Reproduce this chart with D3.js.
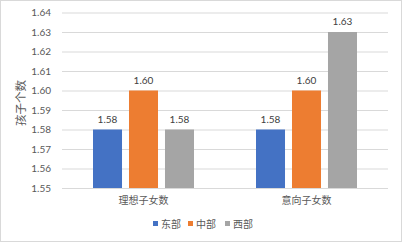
<!DOCTYPE html>
<html><head><meta charset="utf-8">
<script src="https://cdn.jsdelivr.net/npm/d3@7"></script>
<style>body{margin:0;background:#fff}svg{display:block}</style>
</head><body>
<svg id="c" width="402" height="242"></svg>
<script>
const categories = ["理想子女数", "意向子女数"];
const seriesNames = ["东部", "中部", "西部"];
const east = [1.58, 1.58];
const central = [1.60, 1.60];
const west = [1.58, 1.63];
const seriesValues = [east, central, west];
const colors = ["#4472C4", "#ED7D31", "#A5A5A5"];
const yTicks = [1.55, 1.56, 1.57, 1.58, 1.59, 1.60, 1.61, 1.62, 1.63, 1.64];
const yTitle = "孩子个数";

const svg = d3.select("#c");
const font = "Lato, 'Noto Sans CJK SC', sans-serif";
const cjk = "'Noto Sans CJK SC', sans-serif";
svg.append("rect").attr("x",0.5).attr("y",0.5).attr("width",401).attr("height",241)
  .attr("fill","#fff").attr("stroke","#D9D9D9");

const L = 62, R = 388, T = 12.5, B = 188;
const y = d3.scaleLinear().domain([1.55, 1.64]).range([B, T]);
const x0 = d3.scaleBand().domain(categories).range([L, R]).paddingInner(0).paddingOuter(0);
const x1 = d3.scaleBand().domain(seriesNames).range([31, x0.bandwidth() - 31]).paddingInner(0.194).paddingOuter(0);

// gridlines
const yAxis = d3.axisLeft(y).tickValues(yTicks).tickFormat(d3.format(".2f")).tickSize(-(R - L)).tickPadding(11);
const ga = svg.append("g").attr("transform", `translate(${L},0)`).call(yAxis);
ga.select(".domain").remove();
ga.selectAll(".tick line").attr("stroke", "#D9D9D9").attr("stroke-width", 1);
ga.selectAll(".tick text").attr("fill", "#595959").style("font-family", font).style("font-size", "10px");

// bars
categories.forEach((cat, ci) => {
  const g = svg.append("g").attr("transform", `translate(${x0(cat)},0)`);
  seriesNames.forEach((s, si) => {
    const v = seriesValues[si][ci];
    g.append("rect").attr("x", x1(s)).attr("y", y(v)).attr("width", x1.bandwidth())
      .attr("height", y(1.55) - y(v)).attr("fill", colors[si]);
    g.append("text").attr("x", x1(s) + x1.bandwidth()/2).attr("y", y(v) - 7)
      .attr("text-anchor", "middle").attr("fill", "#404040")
      .style("font-family", font).style("font-size", "10px").text(d3.format(".2f")(v));
  });
});

// x axis line
svg.append("line").attr("x1", L).attr("x2", R).attr("y1", B + 0.5).attr("y2", B + 0.5).attr("stroke", "#D9D9D9");
const xAxis = d3.axisBottom(x0).tickSize(0).tickPadding(9);
const gx = svg.append("g").attr("transform", `translate(0,${B})`).call(xAxis);
gx.select(".domain").remove();
gx.selectAll(".tick text").attr("fill", "#595959").style("font-family", cjk).style("font-size", "10px");

// y title
svg.append("text").attr("transform", "translate(20.5,103) rotate(-90)").attr("text-anchor", "middle")
  .attr("dy", "0.35em").attr("fill", "#595959").style("font-family", cjk).style("font-size", "11.5px").text(yTitle);

// legend
const legendX = [153, 188, 225];
seriesNames.forEach((s, i) => {
  svg.append("rect").attr("x", legendX[i]).attr("y", 221).attr("width", 5).attr("height", 5).attr("fill", colors[i]);
  svg.append("text").attr("x", legendX[i] + 8).attr("y", 227.5).attr("fill", "#595959")
    .style("font-family", cjk).style("font-size", "10px").text(s);
});
</script>
</body></html>
